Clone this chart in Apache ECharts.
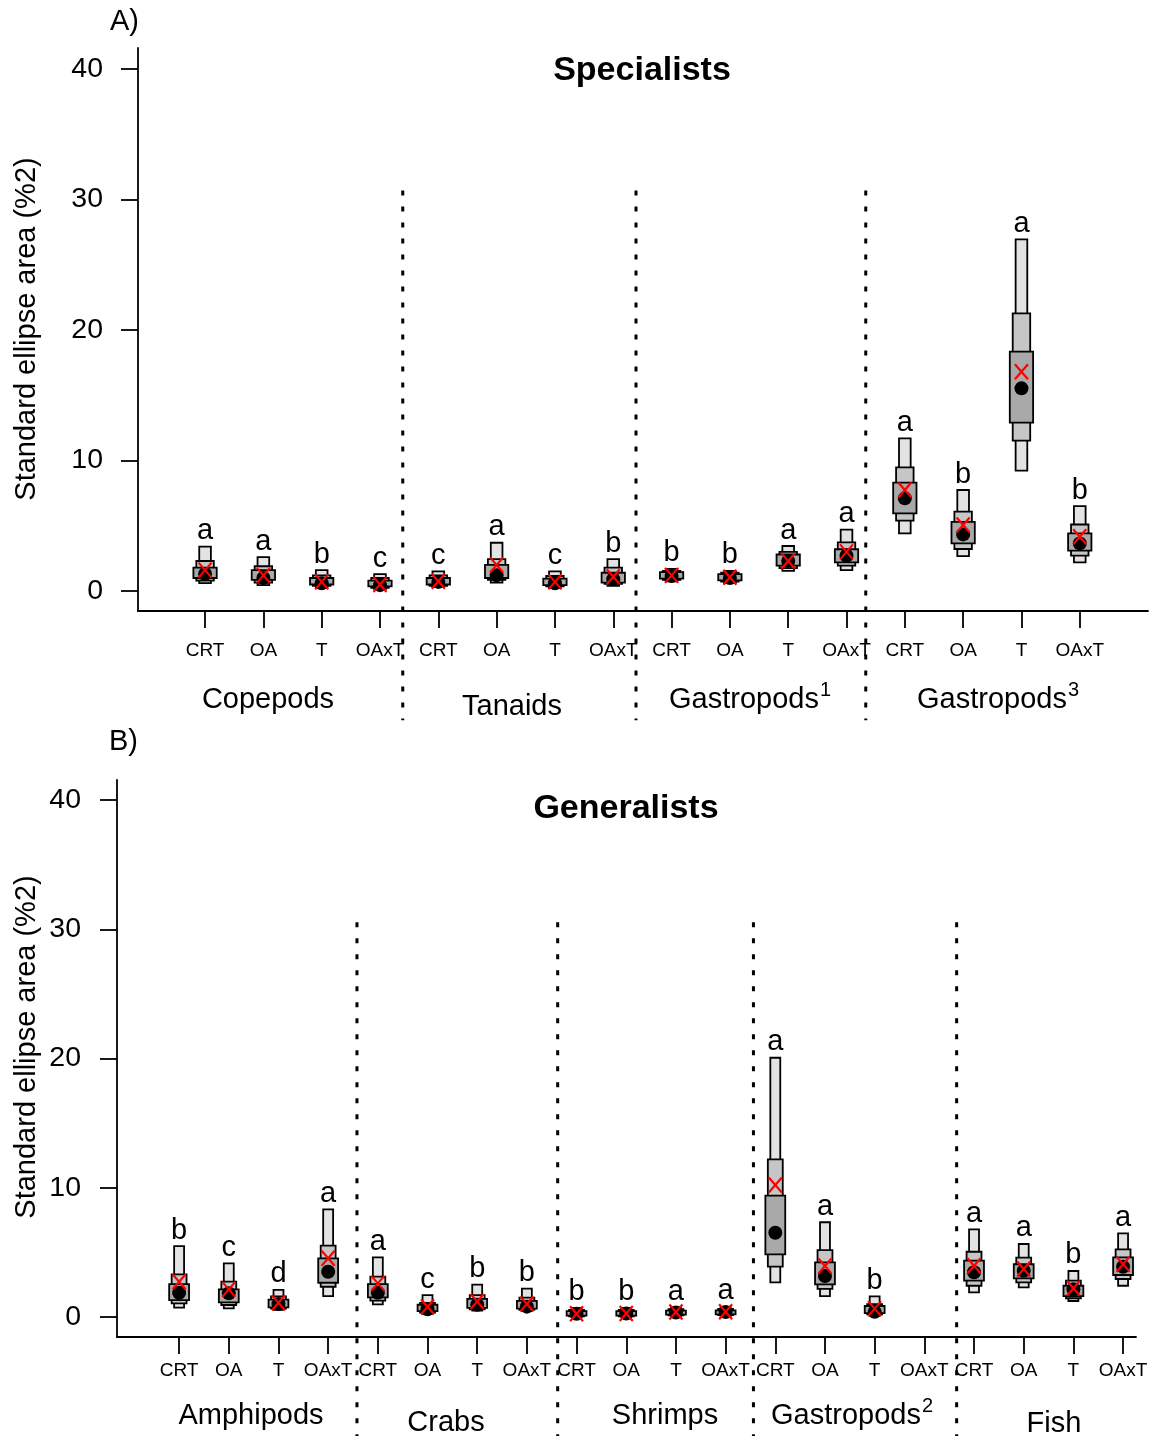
<!DOCTYPE html>
<html><head><meta charset="utf-8">
<script src="https://cdn.jsdelivr.net/npm/echarts@6/dist/echarts.min.js"></script>
<style>html,body{margin:0;padding:0;background:#fff}#c{width:1151px;height:1436px}</style>
</head><body><div id="c"></div>
<script>
// ---------- data ----------
const treatments = ['CRT', 'OA', 'T', 'OAxT'];
const groupsA = ['Copepods', 'Tanaids', 'Gastropods¹', 'Gastropods³'];
const groupsB = ['Amphipods', 'Crabs', 'Shrimps', 'Gastropods²', 'Fish'];
const yTicks = [0, 10, 20, 30, 40];

// Panel A – Specialists (16 treatments: 4 groups x CRT, OA, T, OAxT)
const lo95A = [0.6, 0.45, 0.3, 0.15,  0.3, 0.65, 0.25, 0.4,  0.75, 0.6, 1.55, 1.6,  4.42, 2.68, 9.22, 2.2];
const hi95A = [3.4, 2.6, 1.6, 1.3,  1.5, 3.7, 1.5, 2.45,  1.7, 1.55, 3.45, 4.7,  11.7, 7.74, 26.95, 6.51];
const lo75A = [0.8, 0.65, 0.4, 0.25,  0.4, 0.85, 0.35, 0.55,  0.85, 0.72, 1.75, 1.94,  5.4, 3.22, 11.52, 2.71];
const hi75A = [2.3, 1.9, 1.2, 1.0,  1.2, 2.45, 1.15, 1.8,  1.55, 1.4, 3.0, 3.73,  9.48, 6.08, 21.28, 5.1];
const lo50A = [1.0, 0.85, 0.5, 0.35,  0.5, 1.0, 0.45, 0.65,  0.95, 0.82, 1.95, 2.2,  5.95, 3.65, 12.9, 3.09];
const hi50A = [1.8, 1.6, 1.0, 0.8,  1.0, 2.0, 0.95, 1.4,  1.45, 1.3, 2.8, 3.2,  8.3, 5.3, 18.34, 4.42];
const modeA = [1.3, 1.0, 0.6, 0.45,  0.7, 1.2, 0.6, 0.9,  1.15, 1.0, 2.3, 2.7,  7.1, 4.34, 15.53, 3.65];
const mlA   = [1.6, 1.2, 0.7, 0.5,  0.75, 2.0, 0.7, 1.1,  1.2, 1.05, 2.3, 3.0,  7.74, 5.06, 16.8, 4.16];
const lettersA = ['a','a','b','c',  'c','a','c','b',  'b','b','a','a',  'a','b','a','b'];
const sepA = [4.39, 8.39, 12.33];

// Panel B – Generalists (20 treatments: 5 groups x CRT, OA, T, OAxT)
const lo95B = [0.72, 0.67, 0.55, 1.62,  0.98, 0.25, 0.5, 0.45,  0.0, 0.0, 0.05, 0.07,  2.68, 1.62, 0.1, null,  1.91, 2.3, 1.24, 2.42];
const hi95B = [5.49, 4.15, 2.1, 8.33,  4.62, 1.7, 2.5, 2.2,  0.7, 0.7, 0.75, 0.78,  20.06, 7.33, 1.6, null,  6.78, 5.65, 3.56, 6.47];
const lo75B = [1.06, 0.93, 0.65, 2.34,  1.26, 0.35, 0.6, 0.55,  0.05, 0.05, 0.12, 0.14,  3.9, 2.17, 0.2, null,  2.42, 2.68, 1.45, 2.94];
const hi75B = [3.3, 2.73, 1.6, 5.52,  3.12, 1.1, 1.7, 1.5,  0.55, 0.55, 0.6, 0.62,  12.2, 5.18, 1.0, null,  5.05, 4.59, 2.81, 5.24];
const lo50B = [1.31, 1.13, 0.75, 2.65,  1.52, 0.45, 0.7, 0.65,  0.1, 0.1, 0.18, 0.2,  4.85, 2.53, 0.3, null,  2.81, 2.99, 1.62, 3.25];
const hi50B = [2.55, 2.14, 1.35, 4.54,  2.55, 0.95, 1.4, 1.25,  0.45, 0.45, 0.5, 0.52,  9.39, 4.23, 0.85, null,  4.36, 4.08, 2.42, 4.62];
const modeB = [1.88, 1.83, 1.0, 3.5,  1.88, 0.6, 0.95, 0.8,  0.25, 0.27, 0.35, 0.38,  6.52, 3.17, 0.4, null,  3.46, 3.58, 2.14, 3.89];
const mlB   = [2.73, 2.14, 1.1, 4.54,  2.6, 0.8, 1.2, 1.0,  0.25, 0.27, 0.38, 0.4,  10.21, 3.95, 0.65, null,  3.97, 3.71, 2.22, 4.08];
const lettersB = ['b','c','d','a',  'a','c','b','b',  'b','b','a','a',  'a','a','b','',  'a','a','b','a'];
const sepB = [4.58, 8.62, 12.56, 16.65];

// ---------- helpers ----------
const FONT = '"Liberation Sans", Arial, Helvetica, sans-serif';
const SUP = { '¹': '1', '²': '2', '³': '3' };

function boxData(lo95, hi95, lo75, hi75, lo50, hi50) {
  const out = [];
  lo95.forEach((v, i) => {
    if (v === null) return;
    out.push([i + 1, lo95[i], hi95[i], lo75[i], hi75[i], lo50[i], hi50[i], i]);
  });
  return out;
}
function ptData(arr) {
  const out = [];
  arr.forEach((v, i) => { if (v !== null) out.push([i + 1, v]); });
  return out;
}
function makeBoxRender(letters) {
  return function (params, api) {
    const x = api.value(0);
    const unit = api.size([1, 0])[0];
    const levels = [[1, 2, 0.2, '#e3e3e3'], [3, 4, 0.3, '#c6c6c6'], [5, 6, 0.4, '#a9a9a9']];
    const children = [];
    levels.forEach(function (L) {
      const pTop = api.coord([x, api.value(L[1])]);
      const pBot = api.coord([x, api.value(L[0])]);
      const hw = unit * L[2] / 2;
      children.push({
        type: 'rect',
        shape: { x: pTop[0] - hw, y: pTop[1], width: 2 * hw, height: pBot[1] - pTop[1] },
        style: { fill: L[3], stroke: '#000', lineWidth: 1.8 }
      });
    });
    const top = api.coord([x, api.value(2)]);
    children.push({
      type: 'text', x: top[0], y: top[1] - 15.5,
      style: { text: letters[api.value(7)], fill: '#000', font: '29px ' + FONT, align: 'center', verticalAlign: 'middle' }
    });
    return { type: 'group', children: children };
  };
}
function crossRender(params, api) {
  const p = api.coord([api.value(0), api.value(1)]);
  const hx = 6.5, hy = 7.5;
  const st = { stroke: '#ff0000', lineWidth: 2.2 };
  return { type: 'group', children: [
    { type: 'line', shape: { x1: p[0] - hx, y1: p[1] - hy, x2: p[0] + hx, y2: p[1] + hy }, style: st },
    { type: 'line', shape: { x1: p[0] - hx, y1: p[1] + hy, x2: p[0] + hx, y2: p[1] - hy }, style: st }
  ]};
}
function makeSepRender(topVal, botVal) {
  return function (params, api) {
    const a = api.coord([api.value(0), topVal]);
    const b = api.coord([api.value(0), botVal]);
    return { type: 'line', shape: { x1: a[0], y1: a[1], x2: b[0], y2: b[1] },
      style: { stroke: '#000', lineWidth: 3, lineDash: [5, 11] } };
  };
}
function xAxisCfg(gridIndex, min, max, n, margin) {
  const vals = [];
  for (let i = 1; i <= n; i++) vals.push(i);
  return {
    type: 'value', gridIndex: gridIndex, min: min, max: max,
    axisLine: { show: true, onZero: false, lineStyle: { color: '#000', width: 1.8 } },
    axisTick: { show: true, customValues: vals, length: 17, inside: false, lineStyle: { color: '#000', width: 1.8 } },
    axisLabel: { customValues: vals, formatter: function (v) { return treatments[(Math.round(v) - 1) % 4]; },
      color: '#000', fontSize: 19, fontFamily: FONT, margin: margin },
    splitLine: { show: false }
  };
}
function yAxisCfg(gridIndex, min, max, margin) {
  return {
    type: 'value', gridIndex: gridIndex, min: min, max: max,
    axisLine: { show: true, onZero: false, lineStyle: { color: '#000', width: 1.8 } },
    axisTick: { show: true, customValues: yTicks, length: 17, inside: false, lineStyle: { color: '#000', width: 1.8 } },
    axisLabel: { customValues: yTicks, color: '#000', fontSize: 28.5, fontFamily: FONT, margin: margin },
    splitLine: { show: false }
  };
}
function txt(text, x, y, size, bold, rot) {
  return { type: 'text', x: x, y: y, rotation: rot || 0, z: 10,
    style: { text: text, fill: '#000', font: (bold ? 'bold ' : '') + size + 'px ' + FONT, align: 'center', verticalAlign: 'middle' } };
}
// group label: superscript digit drawn smaller and raised (rich text)
function groupTxt(label, x, y) {
  const last = label.slice(-1);
  if (!SUP[last]) return txt(label, x, y, 29, false);
  const base = label.slice(0, -1);
  return { type: 'text', x: x, y: y - 3.5, z: 10,
    style: {
      text: '{b|' + base + '}{s|' + SUP[last] + '}',
      align: 'center', verticalAlign: 'middle',
      rich: {
        b: { fontSize: 29, fontFamily: FONT, fill: '#000', lineHeight: 34, verticalAlign: 'bottom' },
        s: { fontSize: 20, fontFamily: FONT, fill: '#000', lineHeight: 20, verticalAlign: 'top', padding: [0, 0, 0, 1] }
      }
    } };
}

const option = {
  animation: false,
  backgroundColor: '#ffffff',
  grid: [
    { left: 138, right: 3, top: 48, height: 563, containLabel: false, outerBoundsMode: 'none' },
    { left: 117, right: 15, top: 780, height: 557, containLabel: false, outerBoundsMode: 'none' }
  ],
  xAxis: [xAxisCfg(0, -0.15, 17.17, 16, 30), xAxisCfg(1, -0.25, 20.26, 20, 24)],
  yAxis: [yAxisCfg(0, -1.53, 41.61, 35), yAxisCfg(1, -1.547, 41.55, 36)],
  series: [
    { type: 'custom', xAxisIndex: 0, yAxisIndex: 0, z: 1, clip: false, data: sepA.map(function (v) { return [v, 0]; }),
      encode: { x: 0, y: 1 }, renderItem: makeSepRender(30.7, -9.9) },
    { type: 'custom', xAxisIndex: 1, yAxisIndex: 1, z: 1, clip: false, data: sepB.map(function (v) { return [v, 0]; }),
      encode: { x: 0, y: 1 }, renderItem: makeSepRender(30.55, -9.3) },
    { type: 'custom', xAxisIndex: 0, yAxisIndex: 0, z: 2, clip: false,
      data: boxData(lo95A, hi95A, lo75A, hi75A, lo50A, hi50A), encode: { x: 0, y: [1, 2] }, renderItem: makeBoxRender(lettersA) },
    { type: 'custom', xAxisIndex: 1, yAxisIndex: 1, z: 2, clip: false,
      data: boxData(lo95B, hi95B, lo75B, hi75B, lo50B, hi50B), encode: { x: 0, y: [1, 2] }, renderItem: makeBoxRender(lettersB) },
    { type: 'scatter', xAxisIndex: 0, yAxisIndex: 0, z: 3, symbol: 'circle', symbolSize: 14,
      itemStyle: { color: '#000', opacity: 1 }, data: ptData(modeA) },
    { type: 'scatter', xAxisIndex: 1, yAxisIndex: 1, z: 3, symbol: 'circle', symbolSize: 14,
      itemStyle: { color: '#000', opacity: 1 }, data: ptData(modeB) },
    { type: 'custom', xAxisIndex: 0, yAxisIndex: 0, z: 4, clip: false, data: ptData(mlA), encode: { x: 0, y: 1 }, renderItem: crossRender },
    { type: 'custom', xAxisIndex: 1, yAxisIndex: 1, z: 4, clip: false, data: ptData(mlB), encode: { x: 0, y: 1 }, renderItem: crossRender }
  ],
  graphic: [
    txt('A)', 124.5, 22, 29, false),
    txt('B)', 123.5, 742, 29, false),
    txt('Specialists', 642, 71, 34, true),
    txt('Generalists', 626, 809, 34, true),
    txt('Standard ellipse area (%2)', 27, 329, 29, false, Math.PI / 2),
    txt('Standard ellipse area (%2)', 27, 1047, 29, false, Math.PI / 2),
    groupTxt(groupsA[0], 268, 700),
    groupTxt(groupsA[1], 512, 707),
    groupTxt(groupsA[2], 750, 701),
    groupTxt(groupsA[3], 998, 701),
    groupTxt(groupsB[0], 251, 1416),
    groupTxt(groupsB[1], 446, 1423),
    groupTxt(groupsB[2], 665, 1416),
    groupTxt(groupsB[3], 852, 1417),
    groupTxt(groupsB[4], 1054, 1424)
  ]
};

const chart = echarts.init(document.getElementById('c'), null, { renderer: 'canvas', width: 1151, height: 1436 });
chart.setOption(option);
</script>
</body></html>
